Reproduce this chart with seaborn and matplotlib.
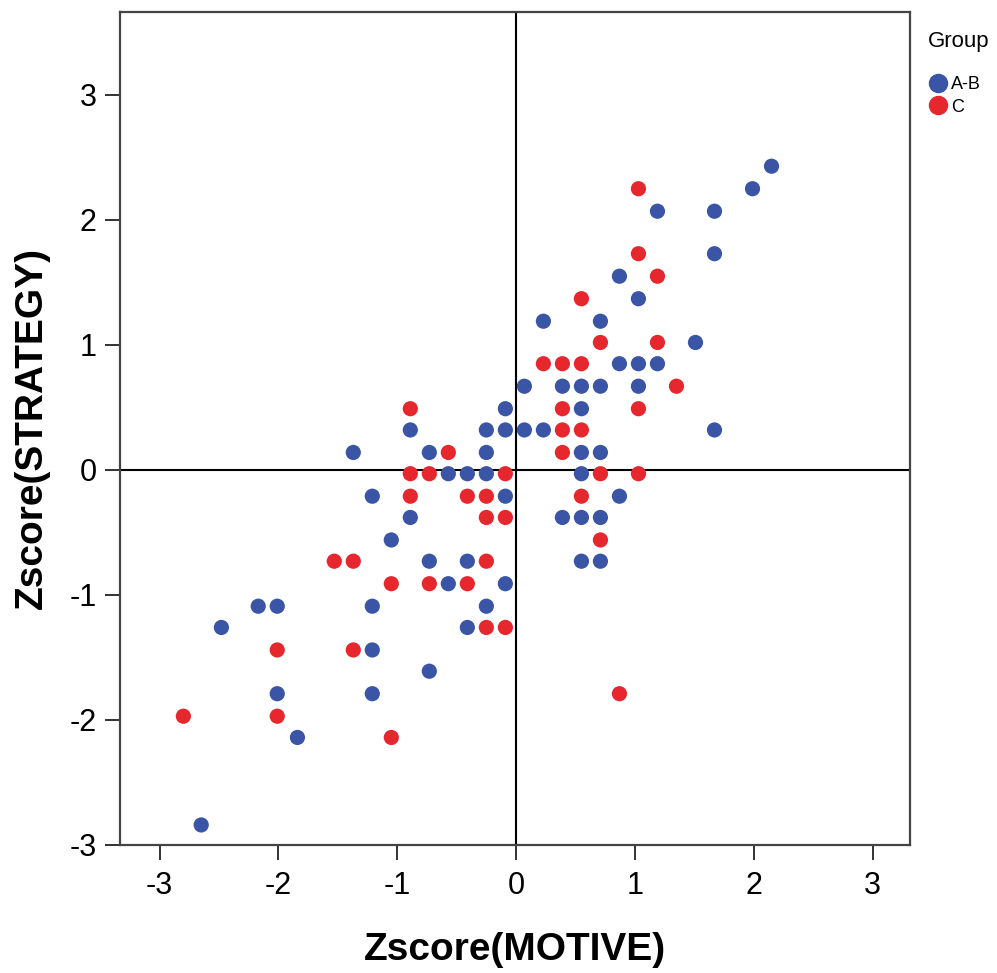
#!/usr/bin/env python3
"""
plot.py

Scatter of standardized MOTIVE vs STRATEGY scores, coloured by group.
"""

import pandas as pd
import matplotlib
matplotlib.use("Agg")
import matplotlib.pyplot as plt
from matplotlib.lines import Line2D
import seaborn as sns

# Group A-B (blue)
ab_motive = [2.15, 1.99, 1.19, 1.67, 1.67, 0.87, 1.03, 0.23, 0.71, 1.51,
             0.87, 1.03, 1.19, 0.07, 0.39, 0.55, 0.71, 1.03, -0.09, 0.55,
             -0.09, 0.07, 0.23, 1.67, 0.55, 0.71, 0.55, -0.09, 0.87, -0.89,
             -0.25, -1.37, -0.73, -0.25, -0.57, -0.41, -0.25, -1.21, -0.89, 0.39,
             0.55, 0.71, -1.05, -0.73, -0.41, 0.55, 0.71, -0.57, -0.09, -2.17,
             -2.01, -1.21, -0.25, -2.48, -0.41, -1.21, -0.73, -2.01, -1.21, -1.84,
             -2.65]
ab_strategy = [2.43, 2.25, 2.07, 2.07, 1.73, 1.55, 1.37, 1.19, 1.19, 1.02,
               0.85, 0.85, 0.85, 0.67, 0.67, 0.67, 0.67, 0.67, 0.49, 0.49,
               0.32, 0.32, 0.32, 0.32, 0.14, 0.14, -0.03, -0.21, -0.21, 0.32,
               0.32, 0.14, 0.14, 0.14, -0.03, -0.03, -0.03, -0.21, -0.38, -0.38,
               -0.38, -0.38, -0.56, -0.73, -0.73, -0.73, -0.73, -0.91, -0.91, -1.09,
               -1.09, -1.09, -1.09, -1.26, -1.26, -1.44, -1.61, -1.79, -1.79, -2.14,
               -2.84]

# Group C (red)
c_motive = [1.03, 1.03, 1.19, 0.55, 0.71, 1.19, 0.23, 0.39, 0.55, 1.35,
            0.39, 1.03, 0.39, 0.55, 0.39, -0.09, 0.71, 1.03, 0.55, -0.89,
            -0.57, -0.89, -0.73, -0.89, -0.41, -0.25, -0.25, -0.09, -1.53, -1.37,
            -0.25, -1.05, -0.73, -0.41, -0.25, -0.09, -2.01, -1.37, -2.80, -2.01,
            -1.05, 0.71, 0.87]
c_strategy = [2.25, 1.73, 1.55, 1.37, 1.02, 1.02, 0.85, 0.85, 0.85, 0.67,
              0.49, 0.49, 0.32, 0.32, 0.14, -0.03, -0.03, -0.03, -0.21, 0.49,
              0.14, -0.03, -0.03, -0.21, -0.21, -0.21, -0.38, -0.38, -0.73, -0.73,
              -0.73, -0.91, -0.91, -0.91, -1.26, -1.26, -1.44, -1.44, -1.97, -1.97,
              -2.14, -0.56, -1.79]

groups = ["A-B", "C"]
colors = ["#3b55a6", "#e6282e"]
ticks = [-3, -2, -1, 0, 1, 2, 3]


def main():
    df = pd.concat([
        pd.DataFrame({"MOTIVE": ab_motive, "STRATEGY": ab_strategy, "Group": groups[0]}),
        pd.DataFrame({"MOTIVE": c_motive, "STRATEGY": c_strategy, "Group": groups[1]}),
    ], ignore_index=True)

    sns.set_style("white")
    plt.rcParams["font.family"] = ["Liberation Sans", "DejaVu Sans"]
    plt.rcParams["axes.unicode_minus"] = False
    plt.rcParams["text.color"] = "black"

    fig = plt.figure(figsize=(9.97, 9.73), dpi=100)
    ax = fig.add_axes([0.1204, 0.1316, 0.7924, 0.8561])

    sns.scatterplot(data=df, x="MOTIVE", y="STRATEGY", hue="Group",
                    hue_order=groups, palette=colors, s=120, linewidth=0,
                    alpha=1, legend=False, ax=ax, zorder=3)

    # reference lines through the origin
    ax.axhline(0, color="black", lw=1.5, zorder=2)
    ax.axvline(0, color="black", lw=1.5, zorder=2)

    ax.set_xlim(-3.333, 3.316)
    ax.set_ylim(-3, 3.664)
    ax.set_xticks(ticks)
    ax.set_yticks(ticks)
    ax.tick_params(bottom=True, left=True, direction="out", length=11,
                   width=1.3, color="#222222", labelsize=22, labelcolor="black")
    ax.tick_params(axis="x", pad=8)
    ax.tick_params(axis="y", pad=6)

    for side in ["left", "right", "top", "bottom"]:
        ax.spines[side].set_visible(True)
        ax.spines[side].set_color("#444444")
        ax.spines[side].set_linewidth(1.6)

    ax.set_xlabel("Zscore(MOTIVE)", fontsize=28, fontweight="bold",
                  labelpad=22, color="black")
    ax.set_ylabel("Zscore(STRATEGY)", fontsize=28, fontweight="bold",
                  labelpad=14, color="black")

    # legend: title placed separately so the gap above the entries matches
    fig.text(0.931, 0.957, "Group", fontsize=16, va="center", ha="left")
    handles = [Line2D([], [], marker="o", linestyle="", color=c, markersize=13)
               for c in colors]
    fig.legend(handles, groups, loc="upper left",
               bbox_to_anchor=(0.925, 0.931), frameon=False, fontsize=13,
               handlelength=0.8, handletextpad=0.3, labelspacing=0.3,
               borderpad=0)

    fig.savefig("out.png", dpi=100)
    plt.close(fig)


if __name__ == "__main__":
    main()
